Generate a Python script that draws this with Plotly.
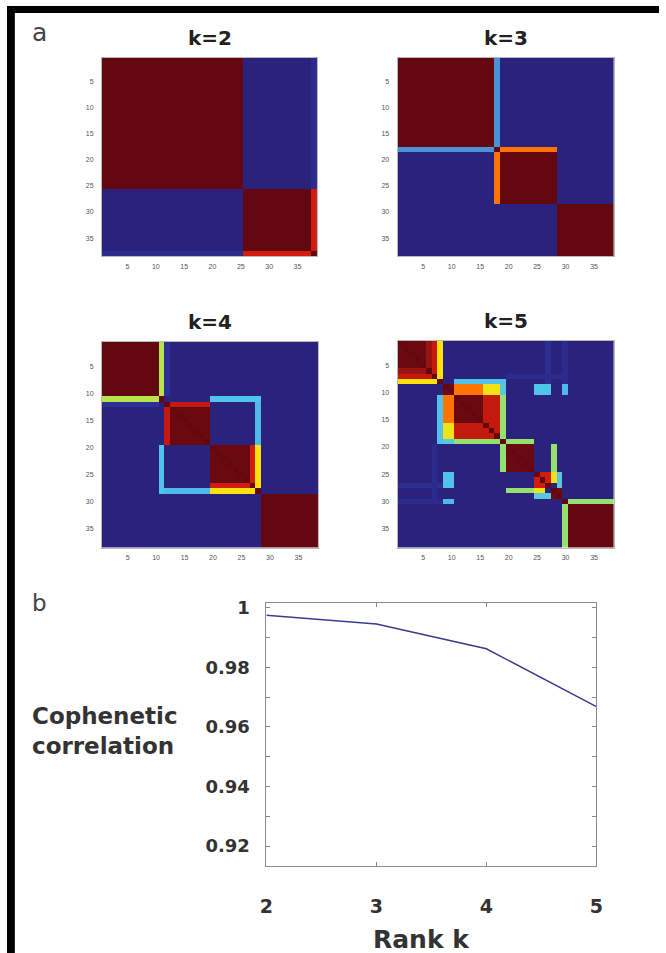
import numpy as np
import plotly.graph_objects as go

# ---------------- data ----------------
N_SAMPLES = 38
SAMPLE_IDS = list(range(1, N_SAMPLES + 1))
HEAT_TICKS = [5, 10, 15, 20, 25, 30, 35]

# consensus-matrix patches: (row_from, row_to, col_from, col_to, consensus) 1-based, symmetric
K2_BASE = 0.04
K2_PATCHES = [
    (1, 25, 1, 25, 1.0),
    (26, 37, 26, 37, 1.0),
    (38, 38, 1, 25, 0.08),
    (38, 38, 26, 37, 0.88),
]
K3_BASE = 0.04
K3_PATCHES = [
    (1, 17, 1, 17, 1.0),
    (19, 28, 19, 28, 1.0),
    (29, 38, 29, 38, 1.0),
    (18, 18, 1, 17, 0.3),
    (18, 18, 19, 28, 0.8),
]
K4_BASE = 0.04
K4_PATCHES = [
    (1, 10, 1, 10, 1.0),
    (11, 11, 1, 10, 0.6),
    (12, 12, 1, 10, 0.1),
    (12, 19, 12, 19, 0.97),
    (12, 12, 12, 19, 0.89),
    (20, 27, 20, 27, 0.97),
    (27, 27, 20, 27, 0.88),
    (28, 28, 20, 27, 0.7),
    (11, 11, 20, 28, 0.4),
    (28, 28, 12, 19, 0.38),
    (29, 38, 29, 38, 1.0),
]
K5_BASE = 0.04
K5_PATCHES = [
    (27, 27, 1, 8, 0.09),
    (7, 7, 20, 29, 0.08),
    (30, 30, 1, 8, 0.08),
    (1, 7, 1, 7, 0.97),
    (6, 6, 1, 7, 0.92),
    (7, 7, 1, 7, 0.89),
    (8, 8, 1, 7, 0.7),
    (8, 8, 11, 19, 0.4),
    (9, 10, 9, 10, 0.96),
    (9, 10, 11, 15, 0.8),
    (9, 10, 16, 18, 0.68),
    (9, 10, 19, 19, 0.42),
    (9, 10, 25, 27, 0.4),
    (9, 10, 30, 30, 0.38),
    (11, 18, 11, 18, 0.97),
    (16, 18, 11, 18, 0.89),
    (19, 19, 11, 18, 0.56),
    (19, 19, 20, 24, 0.56),
    (20, 24, 20, 24, 0.98),
    (25, 27, 25, 27, 0.88),
    (28, 28, 20, 24, 0.56),
    (28, 28, 25, 26, 0.68),
    (29, 29, 25, 27, 0.42),
    (28, 29, 28, 29, 0.96),
    (30, 30, 31, 38, 0.56),
    (31, 38, 31, 38, 1.0),
]

RANKS = [2, 3, 4, 5]
COPHENETIC = [0.9975, 0.9945, 0.9862, 0.9668]

PANEL_TITLES = ["k=2", "k=3", "k=4", "k=5"]


def consensus(base, patches, n=N_SAMPLES):
    m = np.full((n, n), base, dtype=float)
    for r1, r2, c1, c2, v in patches:
        m[r1 - 1:r2, c1 - 1:c2] = v
        m[c1 - 1:c2, r1 - 1:r2] = v
    np.fill_diagonal(m, 1.0)
    return m


MATRICES = [
    consensus(K2_BASE, K2_PATCHES),
    consensus(K3_BASE, K3_PATCHES),
    consensus(K4_BASE, K4_PATCHES),
    consensus(K5_BASE, K5_PATCHES),
]

# ---------------- style ----------------
W, H = 666, 953
JET = [
    [0.0, "rgb(28,20,92)"],
    [0.04, "rgb(42,34,125)"],
    [0.1, "rgb(44,48,150)"],
    [0.2, "rgb(50,90,200)"],
    [0.3, "rgb(75,145,215)"],
    [0.4, "rgb(80,195,235)"],
    [0.5, "rgb(120,220,180)"],
    [0.56, "rgb(150,225,110)"],
    [0.62, "rgb(200,230,60)"],
    [0.7, "rgb(255,225,10)"],
    [0.8, "rgb(255,115,0)"],
    [0.88, "rgb(210,28,15)"],
    [0.95, "rgb(112,10,18)"],
    [1.0, "rgb(100,8,16)"],
]


def px_x(a, b):
    return [a / W, b / W]


def px_y(top, bottom):
    return [1 - bottom / H, 1 - top / H]


# pixel boxes (left, right, top, bottom)
BOXES = [
    (97, 317, 52, 252),
    (399, 620, 52, 252),
    (97, 318, 338, 545),
    (399, 620, 337, 545),
]
LINE_BOX = (265, 602, 601, 865)

TXT = "DejaVu Sans, Liberation Sans, Arial"
fig = go.Figure()
layout = dict(
    width=W, height=H, autosize=False,
    margin=dict(l=0, r=0, t=0, b=0),
    paper_bgcolor="white", plot_bgcolor="white",
    showlegend=False,
    font=dict(family=TXT, color="#333"),
)

annotations = []
for i, (m, box, title) in enumerate(zip(MATRICES, BOXES, PANEL_TITLES)):
    idx = "" if i == 0 else str(i + 1)
    fig.add_trace(go.Heatmap(
        z=m, x=SAMPLE_IDS, y=SAMPLE_IDS,
        colorscale=JET, zmin=0, zmax=1, showscale=False,
        xaxis="x" + idx, yaxis="y" + idx,
    ))
    l, r, t, b = box
    layout["xaxis" + idx] = dict(
        domain=px_x(l, r), range=[0.5, N_SAMPLES + 0.5], anchor="y" + idx,
        tickvals=HEAT_TICKS, ticks="", showgrid=False, zeroline=False,
        showline=True, mirror=True, linecolor="#b8b8b8", linewidth=1,
        tickfont=dict(size=7, color="#555", family="Liberation Sans, Arial"),
        ticklabelstandoff=3,
    )
    layout["yaxis" + idx] = dict(
        domain=px_y(t, b), range=[N_SAMPLES + 0.5, 0.5], anchor="x" + idx,
        tickvals=HEAT_TICKS, ticks="", showgrid=False, zeroline=False,
        showline=True, mirror=True, linecolor="#b8b8b8", linewidth=1,
        tickfont=dict(size=7, color="#555", family="Liberation Sans, Arial"),
        ticklabelstandoff=6,
    )
    annotations.append(dict(
        text=f"<b>{title}</b>", xref="paper", yref="paper",
        x=(l + r) / 2 / W, y=1 - (t - 20) / H, xanchor="center", yanchor="middle",
        showarrow=False, font=dict(size=20, color="#222", family=TXT),
    ))

# line panel
fig.add_trace(go.Scatter(
    x=RANKS, y=COPHENETIC, mode="lines",
    line=dict(color="#3b3b90", width=1.5),
    xaxis="x5", yaxis="y5",
))
l, r, t, b = LINE_BOX
layout["xaxis5"] = dict(
    domain=px_x(l, r), range=[2, 5], anchor="y5",
    tickvals=RANKS, ticks="inside", ticklen=4, tickcolor="#888",
    showline=True, mirror="ticks", linecolor="#8a8a8a", linewidth=1,
    showgrid=False, zeroline=False,
    tickfont=dict(size=19, color="#333", family=TXT, weight="bold"),
    ticklabelstandoff=24,
)
layout["yaxis5"] = dict(
    domain=px_y(t, b), range=[0.9135, 1.0015], anchor="x5",
    tick0=0.92, dtick=0.01, ticklabelstep=2,
    ticks="inside", ticklen=4, tickcolor="#888",
    showline=True, mirror="ticks", linecolor="#8a8a8a", linewidth=1,
    showgrid=False, zeroline=False,
    tickfont=dict(size=18, color="#333", family=TXT, weight="bold"),
    ticklabelstandoff=12,
)

annotations += [
    dict(text="a", xref="paper", yref="paper", x=33 / W, y=1 - 27 / H,
         xanchor="center", yanchor="middle", showarrow=False,
         font=dict(size=25, color="#444", family=TXT)),
    dict(text="b", xref="paper", yref="paper", x=33 / W, y=1 - 601 / H,
         xanchor="center", yanchor="middle", showarrow=False,
         font=dict(size=23, color="#444", family=TXT)),
    dict(text="<b>Cophenetic<br>correlation</b>", xref="paper", yref="paper",
         x=24 / W, y=1 - 730 / H, xanchor="left", yanchor="middle", align="left",
         showarrow=False, font=dict(size=23, color="#333", family=TXT)),
    dict(text="<b>Rank k</b>", xref="paper", yref="paper",
         x=423 / W, y=1 - 939 / H, xanchor="center", yanchor="middle",
         showarrow=False, font=dict(size=25, color="#333", family=TXT)),
]
layout["annotations"] = annotations
layout["shapes"] = [
    dict(type="rect", xref="paper", yref="paper", x0=0, x1=8 / W, y0=0, y1=1,
         fillcolor="black", line=dict(width=0), layer="above"),
    dict(type="rect", xref="paper", yref="paper", x0=0, x1=1, y0=1 - 7 / H, y1=1,
         fillcolor="black", line=dict(width=0), layer="above"),
]

fig.update_layout(**layout)
fig.write_html(
    "out.html",
    config={"displayModeBar": False},
    post_script="document.body.style.margin='0';document.body.style.padding='0';",
)
